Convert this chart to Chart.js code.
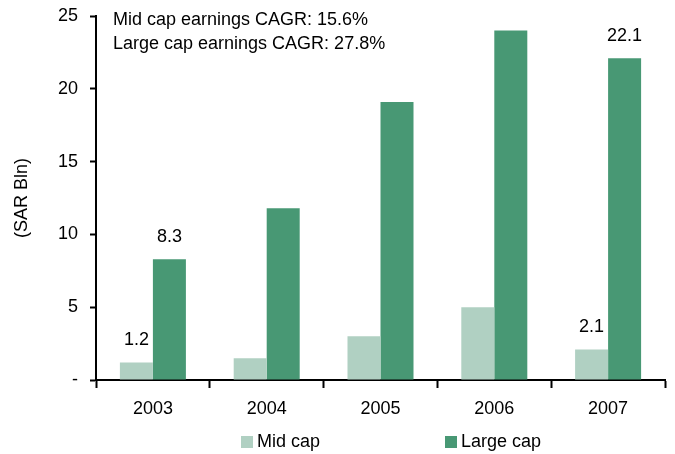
<!DOCTYPE html>
<html>
<head>
<meta charset="utf-8">
<script src="https://cdn.jsdelivr.net/npm/chart.js@4/dist/chart.umd.min.js"></script>
<style>
  html, body { margin: 0; padding: 0; background: #fff; }
  #wrap { width: 675px; height: 454px; }
</style>
</head>
<body>
<div id="wrap"><canvas id="c"></canvas></div>
<script>
var years = ['2003', '2004', '2005', '2006', '2007'];
var midCap = [1.2, 1.5, 3.0, 5.0, 2.1];
var largeCap = [8.3, 11.8, 19.1, 24.0, 22.1];
var labelIdx = [0, 4];            // bars that carry a value label
var notes = ['Mid cap earnings CAGR: 15.6%', 'Large cap earnings CAGR: 27.8%'];
var yTicks = [0, 5, 10, 15, 20, 25];

var FONT = 'Liberation Sans, Arial, sans-serif';
var FS = 18;

const extras = {
  id: 'extras',
  afterDatasetsDraw: (chart) => {
    const ctx = chart.ctx;
    ctx.save();
    ctx.fillStyle = '#000';
    ctx.font = FS + 'px ' + FONT;
    ctx.textAlign = 'center';
    ctx.textBaseline = 'middle';
    chart.data.datasets.forEach((ds, di) => {
      const meta = chart.getDatasetMeta(di);
      labelIdx.forEach((i) => {
        const bar = meta.data[i];
        ctx.fillText(ds.data[i].toFixed(1), bar.x, bar.y - 22);
      });
    });
    // growth notes
    ctx.textAlign = 'left';
    ctx.fillText(notes[0], 113, 20);
    ctx.fillText(notes[1], 113, 44);
    // legend
    const items = [{x: 241}, {x: 445}];
    chart.data.datasets.forEach((ds, di) => {
      ctx.fillStyle = ds.backgroundColor;
      ctx.fillRect(items[di].x, 436, 12, 12);
      ctx.fillStyle = '#000';
      ctx.fillText(ds.label, items[di].x + 16, 442);
    });
    ctx.restore();
  }
};

new Chart(document.getElementById('c'), {
  type: 'bar',
  data: {
    labels: years,
    datasets: [{
      label: 'Mid cap',
      data: midCap,
      backgroundColor: '#b0d0c2',
      categoryPercentage: 0.58,
      barPercentage: 1.0
    }, {
      label: 'Large cap',
      data: largeCap,
      backgroundColor: '#489874',
      categoryPercentage: 0.58,
      barPercentage: 1.0
    }]
  },
  options: {
    responsive: true,
    maintainAspectRatio: false,
    animation: false,
    layout: { padding: { top: 0, right: 10, left: 0, bottom: 0 } },
    plugins: {
      legend: { display: false },
      tooltip: { enabled: false }
    },
    scales: {
      x: {
        grid: {
          offset: true,
          drawOnChartArea: false,
          tickLength: 8,
          tickWidth: 2,
          color: '#000'
        },
        border: { color: '#000', width: 2 },
        ticks: { color: '#000', font: { family: FONT, size: FS }, padding: 10 },
        afterFit: (s) => { s.height = 74; }
      },
      y: {
        min: 0,
        max: 25,
        afterBuildTicks: (s) => { s.ticks = yTicks.map((v) => ({ value: v })); },
        grid: {
          drawOnChartArea: false,
          tickLength: 6,
          tickWidth: 2,
          color: '#000'
        },
        border: { color: '#000', width: 2 },
        ticks: {
          color: '#000',
          font: { family: FONT, size: FS },
          padding: 12,
          callback: (v) => (v === 0 ? '-' : v)
        },
        title: {
          display: true,
          text: '(SAR Bln)',
          color: '#000',
          font: { family: FONT, size: FS },
          padding: { top: 11, bottom: 0 }
        },
        afterFit: (s) => { s.width = 96; s.paddingTop = 16; }
      }
    }
  },
  plugins: [extras]
});
</script>
</body>
</html>
